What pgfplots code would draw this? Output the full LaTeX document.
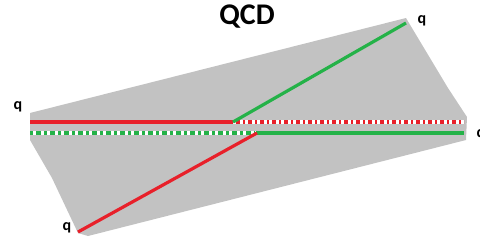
\documentclass[border=0pt]{standalone}
\usepackage{pgfplots}
\pgfplotsset{compat=1.18}
\usepackage{fontspec}
\setmainfont{Carlito}
\definecolor{qred}{RGB}{232,32,42}
\definecolor{qgreen}{RGB}{36,178,72}
\definecolor{qgray}{RGB}{194,194,194}
\begin{document}
\begin{tikzpicture}
\begin{axis}[
  width=480pt, height=242pt, scale only axis,
  xmin=0, xmax=480, ymin=0, ymax=242, y dir=reverse,
  hide axis, clip=false,
]
% gray band
\addplot[fill=qgray, draw=none] coordinates {
 (30,113) (406,18) (448,88) (467,117) (466,140) (88,236) (78,233) (52,178) (30,140)} -- cycle;
% red horizontal solid
\addplot[qred, line width=3.2pt] coordinates {(30,122) (233,122)};
% red dotted continuation
\addplot[white, line width=3.2pt] coordinates {(233,122) (464,122)};
\addplot[qred, line width=3.2pt, dash pattern=on 4pt off 3pt on 2pt off 3pt] coordinates {(236,122) (464,122)};
% green dotted
\addplot[white, line width=3.2pt] coordinates {(30,133) (257,133)};
\addplot[qgreen, line width=3.2pt, dash pattern=on 3pt off 3pt on 5pt off 3pt] coordinates {(30,133) (255,133)};
% green solid
\addplot[qgreen, line width=3.2pt] coordinates {(256,133) (464,133)};
% green diagonal
\addplot[qgreen, line width=3.2pt] coordinates {(233,122) (406,23)};
% red diagonal
\addplot[qred, line width=3.2pt] coordinates {(257,133) (78,232)};
% labels
\node[font=\bfseries\fontsize{16}{16}\selectfont] at (axis cs:18,107) {q};
\node[font=\bfseries\fontsize{16}{16}\selectfont] at (axis cs:422,21) {q};
\node[font=\bfseries\fontsize{16}{16}\selectfont] at (axis cs:67,228) {q};
\node[font=\bfseries\fontsize{16}{16}\selectfont] at (axis cs:481,135) {q};
\node[font=\bfseries\fontsize{30}{30}\selectfont] at (axis cs:247,17) {QCD};
\end{axis}
\pgfresetboundingbox
\path (current axis.south west) rectangle (current axis.north east);
\end{tikzpicture}
\end{document}
